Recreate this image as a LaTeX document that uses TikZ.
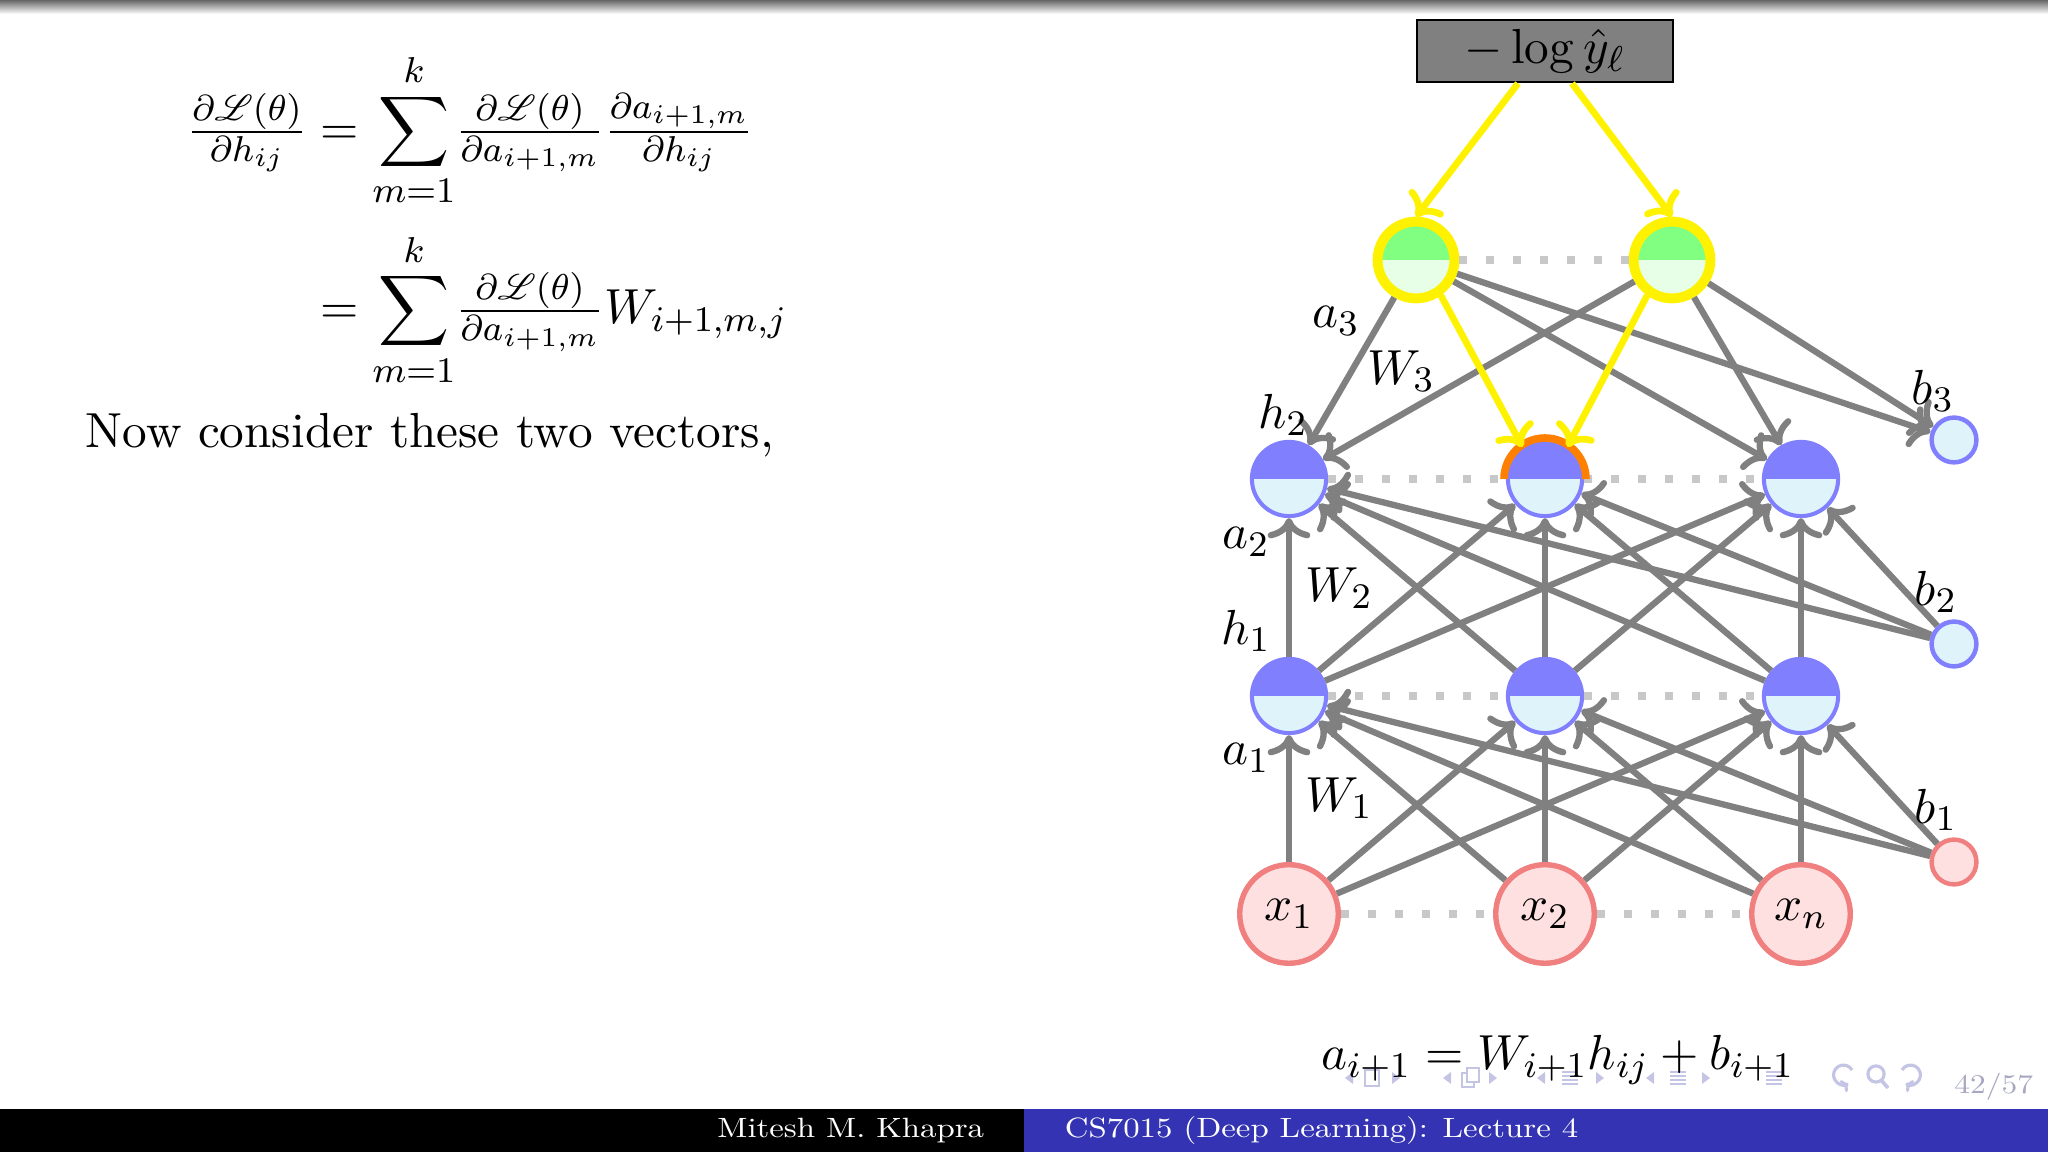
\documentclass[11pt,tikz,border=0pt]{standalone}
\usepackage{amsmath,amssymb,mathrsfs}
\usepackage{graphicx}
\usetikzlibrary{arrows.meta,calc}
\definecolor{hblue}{HTML}{8080FF}
\definecolor{hlight}{HTML}{DFF3FB}
\definecolor{ogreen}{HTML}{80FF80}
\definecolor{olight}{HTML}{E6FFE6}
\definecolor{xpink}{HTML}{FFE0E0}
\definecolor{xred}{HTML}{F08080}
\definecolor{dotgray}{HTML}{C8C8C8}
\definecolor{footblue}{HTML}{3333B3}
\definecolor{navgray}{HTML}{C4C4E4}
\definecolor{gradorange}{HTML}{FF7F00}

\tikzset{
  hid/.style={circle,draw=hblue,line width=0.9pt,fill=hlight,minimum size=5.8mm,inner sep=0pt,
    path picture={\fill[hblue] (path picture bounding box.west) rectangle (path picture bounding box.north east);}},
  outn/.style={circle,draw=yellow,line width=2.2pt,fill=olight,minimum size=6mm,inner sep=0pt,
    path picture={\fill[ogreen] (path picture bounding box.west) rectangle (path picture bounding box.north east);}},
  inp/.style={circle,draw=xred,line width=1.2pt,fill=xpink,minimum size=7.7mm,inner sep=0pt},
  bblue/.style={circle,draw=hblue,line width=1pt,fill=hlight,minimum size=3.5mm,inner sep=0pt},
  bpink/.style={circle,draw=xred,line width=1pt,fill=xpink,minimum size=3.5mm,inner sep=0pt},
  edge/.style={->,draw=gray,line width=1.4pt},
  grad/.style={->,draw=yellow,line width=1.5pt},
  dots/.style={draw=dotgray,line width=1.6pt,dash pattern=on 1.8pt off 4.2pt},
  lab/.style={inner sep=0pt}
}

\begin{document}
\begin{tikzpicture}[x=0.078125mm,y=-0.078125mm,>={To[length=4.5pt,width=9.5pt]}]
  \useasboundingbox (0,0) rectangle (2048,1152);
  \shade[top color=black!60,bottom color=white] (0,0) rectangle (2048,14);

  \node[anchor=west,inner sep=0pt] (eqn) at (186,220) {$\begin{aligned}
    \tfrac{\partial \mathscr{L}(\theta)}{\partial h_{ij}} &= \sum_{m=1}^{k} \!\tfrac{\partial \mathscr{L}(\theta)}{\partial a_{i+1,m}} \tfrac{\partial a_{i+1,m}}{\partial h_{ij}} \\[1.4pt]
    &= \sum_{m=1}^{k} \!\tfrac{\partial \mathscr{L}(\theta)}{\partial a_{i+1,m}} W_{i+1,m,j}
  \end{aligned}$};
  \node[anchor=base west,inner sep=0pt] (txt) at (85,448) {Now consider these two vectors,};

  \node[draw=black,fill=gray,line width=0.6pt,inner sep=0.5pt,minimum width=20mm,minimum height=4.85mm] (loss) at (1545,51) {$-\log \hat{y}_\ell$};
  \node[outn] (o1) at (1416,260) {};
  \node[outn] (o2) at (1672,260) {};
  \foreach \i/\x/\t in {1/1289/x_1,2/1545/x_2,3/1801/x_n} {
    \node[hid] (hb\i) at (\x,479) {};
    \node[hid] (ha\i) at (\x,696) {};
    \node[inp] (x\i) at (\x,914) {$\t$};
  }
  \node[bblue] (bthree) at (1954,440) {};
  \node[bblue] (btwo) at (1954,644) {};
  \node[bpink] (bone) at (1954,862) {};

  \draw[dots] (o1) -- (o2);
  \draw[dots] (hb1) -- (hb2) -- (hb3);
  \draw[dots] (ha1) -- (ha2) -- (ha3);
  \draw[dots] (x1) -- (x2) -- (x3);

  \foreach \i in {1,2,3} {
    \foreach \j in {1,2,3} {
      \draw[edge] (x\i) -- (ha\j);
      \draw[edge] (ha\i) -- (hb\j);
    }
    \draw[edge] (bone) -- (ha\i);
    \draw[edge] (btwo) -- (hb\i);
  }
  \foreach \o in {o1,o2} {
    \draw[edge] (\o) -- (hb1);
    \draw[edge] (\o) -- (hb3);
    \draw[edge] (\o) -- (bthree);
  }
  \draw[gradorange,line width=1.7pt] ([shift={(180:3.2mm)}]hb2.center) arc[start angle=180,end angle=0,radius=3.2mm];
  \draw[grad] ([xshift=-6pt]loss.south) -- (o1.north);
  \draw[grad] ([xshift=6pt]loss.south) -- (o2.north);
  \draw[grad] (o1.-55) -- (hb2.125);
  \draw[grad] (o2.-125) -- (hb2.55);

  \node[lab] (la3) at (1336,321) {$a_3$};
  \node[lab] (lw3) at (1401,371) {$W_3$};
  \node[lab] (lh2) at (1283,415) {$h_2$};
  \node[lab] (lb3) at (1933,391) {$b_3$};
  \node[lab] (la2) at (1246,542) {$a_2$};
  \node[lab] (lw2) at (1339,588) {$W_2$};
  \node[lab] (lh1) at (1246,631) {$h_1$};
  \node[lab] (lb2) at (1936,592) {$b_2$};
  \node[lab] (la1) at (1246,758) {$a_1$};
  \node[lab] (lw1) at (1339,798) {$W_1$};
  \node[lab] (lb1) at (1936,810) {$b_1$};

  \foreach \xa/\xb in {1345/1400,1443/1497,1537/1604,1646/1710} {
    \fill[navgray] (\xa,1078) -- ++(8,-6) -- ++(0,12) -- cycle;
    \fill[navgray] (\xb,1078) -- ++(-8,-6) -- ++(0,12) -- cycle;
  }
  \draw[navgray,line width=0.6pt] (1365,1070) rectangle (1379,1086);
  \draw[navgray,line width=0.6pt] (1462,1073) rectangle (1474,1087);
  \draw[navgray,line width=0.6pt,fill=white] (1467,1068) rectangle (1479,1082);
  \foreach \cx in {1570,1678,1774}
    \foreach \dy in {-6,-2,2,6}
      \draw[navgray,line width=0.6pt] (\cx-8,1078+\dy) -- (\cx+8,1078+\dy);
  \draw[navgray,line width=0.7pt,-{To[length=1.5pt,width=3pt]}] (1852,1070) arc[start angle=30,end angle=300,radius=2.2pt];
  \draw[navgray,line width=0.7pt] (1876,1074) circle[radius=1.8pt];
  \draw[navgray,line width=0.8pt] (1881,1080) -- (1888,1088);
  \draw[navgray,line width=0.7pt,-{To[length=1.5pt,width=3pt]}] (1902,1070) arc[start angle=150,end angle=-120,radius=2.2pt];
  \node[anchor=base east,inner sep=0pt,text=navgray!85!black] (page) at (2034,1094) {\scalebox{0.7}[0.6]{\fontsize{10}{12}\selectfont 42/57}};

  \node[anchor=base,inner sep=0pt] (rule) at (1558,1070) {$a_{i+1} = W_{i+1} h_{ij} + b_{i+1}$};

  \fill[black] (0,1109) rectangle (1024,1152);
  \fill[footblue] (1024,1109) rectangle (2048,1152);
  \node[anchor=east,inner sep=0pt,text=white] (auth) at (985,1131) {\scalebox{0.73}[0.62]{\fontsize{10}{12}\selectfont Mitesh M. Khapra}};
  \node[anchor=west,inner sep=0pt,text=white] (course) at (1064,1131) {\scalebox{0.73}[0.62]{\fontsize{10}{12}\selectfont CS7015 (Deep Learning): Lecture 4}};
\end{tikzpicture}
\end{document}
